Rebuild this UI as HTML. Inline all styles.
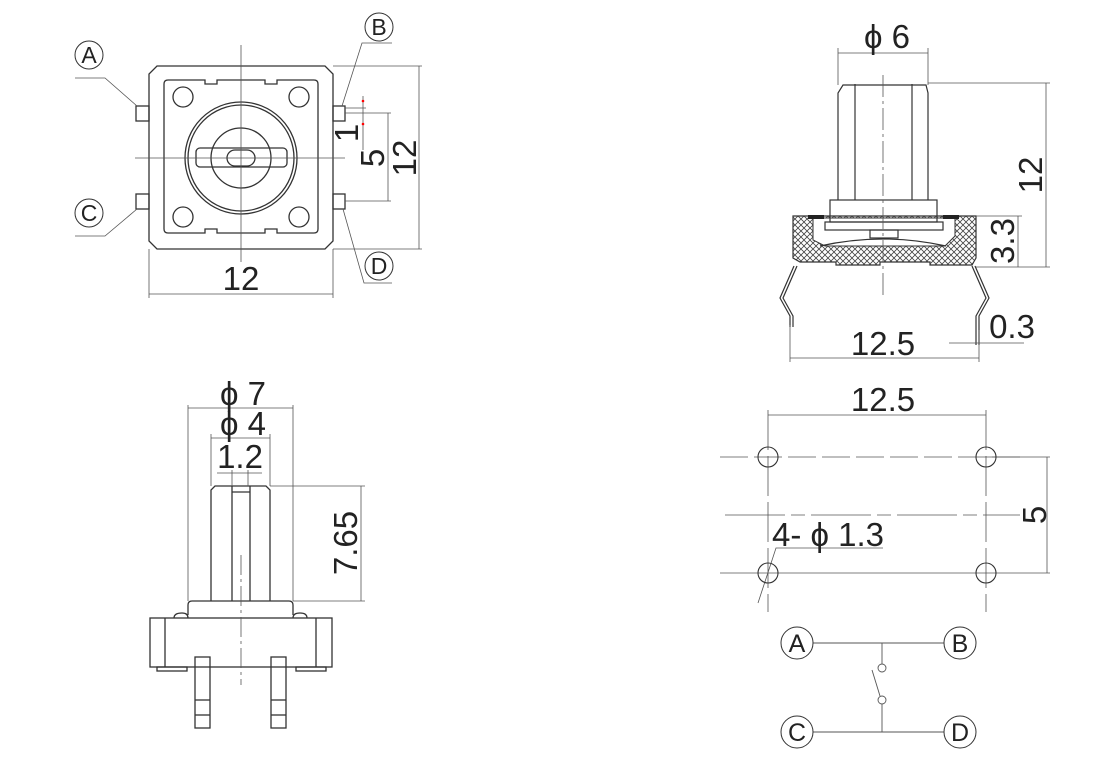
<!DOCTYPE html>
<html><head><meta charset="utf-8"><style>
html,body{margin:0;padding:0;background:#fff;}
svg{display:block;}
text{font-family:"Liberation Sans",sans-serif;fill:#222;}
</style></head><body>
<svg width="1120" height="764" viewBox="0 0 1120 764" xmlns="http://www.w3.org/2000/svg">
<defs>
<pattern id="hatch" width="6" height="6" patternUnits="userSpaceOnUse">
<rect width="6" height="6" fill="#fff"/>
<path d="M0,0L6,6M6,0L0,6" stroke="#444" stroke-width="0.8"/>
</pattern>
</defs>
<g fill="none" stroke="#333" stroke-width="1.3">
<path d="M157,66H325L333,74V241L325,249H157L149,241V74Z"/>
<path d="M168,80H205V84H217V80H265V84H277V80H314Q318,80 318,84V229Q318,233 314,233H277V229H265V233H217V229H205V233H168Q164,233 164,229V84Q164,80 168,80Z"/>
<circle cx="183" cy="97" r="10"/><circle cx="299" cy="97" r="10"/>
<circle cx="183" cy="217" r="10"/><circle cx="299" cy="217" r="10"/>
<circle cx="241" cy="158" r="56"/><circle cx="241" cy="158" r="53"/>
<circle cx="241" cy="158" r="30"/>
<rect x="196" y="148" width="91" height="19" rx="4"/>
<rect x="227" y="150" width="28" height="16" rx="8"/>
<rect x="136" y="106" width="13" height="15"/><rect x="136" y="194" width="13" height="15"/>
<rect x="333" y="106" width="12" height="15"/><rect x="333" y="194" width="12" height="15"/>
</g>
<g fill="none" stroke="#555" stroke-width="0.8">
<line x1="241" y1="45" x2="241" y2="262"/><line x1="135" y1="158" x2="345" y2="158"/>
<path d="M75,78H105L137,106"/><path d="M75,236H105L137,209"/>
<path d="M392,43H362L342,106"/><path d="M392,283H364L343,209"/>
<line x1="149" y1="249" x2="149" y2="298"/><line x1="333" y1="249" x2="333" y2="298"/>
<line x1="149" y1="294" x2="333" y2="294"/>
<line x1="333" y1="66" x2="422" y2="66"/><line x1="333" y1="249" x2="422" y2="249"/>
<line x1="419" y1="66" x2="419" y2="249"/>
<line x1="345" y1="113" x2="391" y2="113"/><line x1="345" y1="201" x2="391" y2="201"/>
<line x1="388" y1="113" x2="388" y2="201"/>
<line x1="345" y1="108" x2="366" y2="108"/>
<line x1="363" y1="96" x2="363" y2="150"/>
</g>
<circle cx="363" cy="101" r="1.3" fill="red"/><circle cx="363" cy="124" r="1.3" fill="red"/>
<g fill="#fff" stroke="#333" stroke-width="1">
<circle cx="89" cy="55" r="14"/><circle cx="379" cy="27" r="14"/>
<circle cx="89" cy="213" r="14"/><circle cx="379" cy="266" r="14"/>
</g>
<g font-size="23" text-anchor="middle">
<text x="89" y="63">A</text><text x="379" y="35">B</text>
<text x="89" y="221">C</text><text x="379" y="274">D</text>
</g>
<g font-size="33" text-anchor="middle">
<text x="241" y="290">12</text>
<text transform="translate(416,158) rotate(-90)">12</text>
<text transform="translate(384,158) rotate(-90)">5</text>
<text transform="translate(358,133) rotate(-90)">1</text>
</g>

<!-- TOP RIGHT VIEW -->
<path d="M793,216H976V258L972,265H930V262H880V265H836V262H800L793,258Z" fill="url(#hatch)" stroke="#333" stroke-width="1.2"/>
<path d="M813,218H955V236L945,246H825L813,240Z" fill="#fff" stroke="#333" stroke-width="1"/>
<g fill="none" stroke="#333" stroke-width="1.2">
<path d="M838,200V93L843,85H926L928,93V200"/>
<line x1="855" y1="84" x2="855" y2="200"/><line x1="912" y1="84" x2="912" y2="200"/>
<rect x="830" y="200" width="107" height="22"/>
<rect x="825" y="222" width="118" height="8"/>
<rect x="870" y="230" width="28" height="8"/>
<path d="M820,246Q883,232 946,246"/>
<path d="M794,266L780,298L790,316V327"/>
<path d="M797,266L783,298L793,316V327"/>
<path d="M975,266L989,298L979,316V345"/>
<path d="M972,266L986,298L976,316V345"/>
</g>
<rect x="808" y="215" width="16" height="4" fill="#222"/>
<rect x="943" y="215" width="16" height="4" fill="#222"/>
<g fill="none" stroke="#555" stroke-width="0.8">
<line x1="883" y1="75" x2="883" y2="295" stroke-dasharray="22,4,3,4"/>
<line x1="838" y1="48" x2="838" y2="85"/><line x1="928" y1="48" x2="928" y2="85"/>
<line x1="838" y1="53" x2="928" y2="53"/>
<line x1="928" y1="83" x2="1050" y2="83"/><line x1="976" y1="267" x2="1050" y2="267"/>
<line x1="1046" y1="83" x2="1046" y2="267"/>
<line x1="976" y1="216" x2="1022" y2="216"/><line x1="1018" y1="216" x2="1018" y2="267"/>
<line x1="790" y1="325" x2="790" y2="362"/><line x1="979" y1="330" x2="979" y2="362"/>
<line x1="790" y1="358" x2="979" y2="358"/>
<line x1="949" y1="343" x2="1024" y2="343"/>
</g>
<g font-size="33" text-anchor="middle">
<text x="887" y="48">ϕ 6</text>
<text transform="translate(1042,175) rotate(-90)">12</text>
<text transform="translate(1014,241) rotate(-90)">3.3</text>
<text x="883" y="355">12.5</text>
<text x="1012" y="338">0.3</text>
</g>

<!-- BOTTOM LEFT VIEW -->
<g fill="none" stroke="#333" stroke-width="1.3">
<path d="M211,601V490L215,486H266L270,490V601"/>
<line x1="232" y1="486" x2="232" y2="601"/><line x1="250" y1="486" x2="250" y2="601"/>
<line x1="232" y1="492" x2="250" y2="492"/>
<path d="M188,615V605Q188,601 192,601H289Q293,601 293,605V615"/>
<rect x="150" y="618" width="182" height="49"/>
<line x1="165" y1="618" x2="165" y2="667"/><line x1="316" y1="618" x2="316" y2="667"/>
<path d="M174,618Q174,613 182,613Q188,613 188,618"/>
<path d="M293,618Q293,613 300,613Q307,613 307,618"/>
<rect x="157" y="667" width="30" height="4"/><rect x="296" y="667" width="30" height="4"/>
<rect x="195" y="657" width="15" height="71"/><rect x="271" y="657" width="15" height="71"/>
<line x1="195" y1="700" x2="210" y2="700"/><line x1="195" y1="715" x2="210" y2="715"/>
<line x1="271" y1="700" x2="286" y2="700"/><line x1="271" y1="715" x2="286" y2="715"/>
</g>
<g fill="none" stroke="#555" stroke-width="0.8">
<line x1="241" y1="555" x2="241" y2="685" stroke-dasharray="20,4,3,4"/>
<line x1="188" y1="405" x2="188" y2="601"/><line x1="293" y1="405" x2="293" y2="601"/>
<line x1="188" y1="408" x2="293" y2="408"/>
<line x1="211" y1="434" x2="211" y2="486"/><line x1="270" y1="434" x2="270" y2="486"/>
<line x1="211" y1="438" x2="270" y2="438"/>
<line x1="232" y1="470" x2="232" y2="486"/><line x1="248" y1="470" x2="248" y2="486"/>
<line x1="217" y1="473" x2="262" y2="473"/>
<line x1="270" y1="486" x2="365" y2="486"/><line x1="293" y1="601" x2="365" y2="601"/>
<line x1="361" y1="486" x2="361" y2="601"/>
</g>
<g font-size="33" text-anchor="middle">
<text x="243" y="405">ϕ 7</text>
<text x="243" y="435">ϕ 4</text>
<text x="240" y="468">1.2</text>
<text transform="translate(357,543) rotate(-90)">7.65</text>
</g>

<!-- BOTTOM RIGHT -->
<g fill="none" stroke="#555" stroke-width="0.8">
<line x1="720" y1="457" x2="1020" y2="457" stroke-dasharray="28,6"/>
<line x1="725" y1="515" x2="1020" y2="515" stroke-dasharray="60,6,14,6"/>
<line x1="720" y1="573" x2="1050" y2="573"/>
<line x1="986" y1="457" x2="1050" y2="457"/>
<line x1="768" y1="410" x2="768" y2="612" stroke-dasharray="40,6"/>
<line x1="986" y1="410" x2="986" y2="612" stroke-dasharray="40,6"/>
<line x1="768" y1="415" x2="986" y2="415"/>
<line x1="1047" y1="457" x2="1047" y2="573"/>
<path d="M883,548H776L758,603"/>
</g>
<g fill="none" stroke="#333" stroke-width="1.1">
<circle cx="768" cy="457" r="10"/><circle cx="986" cy="457" r="10"/>
<circle cx="768" cy="573" r="10"/><circle cx="986" cy="573" r="10"/>
</g>
<g font-size="33" text-anchor="middle">
<text x="883" y="411">12.5</text>
<text transform="translate(1046,515) rotate(-90)">5</text>
<text x="828" y="546">4- ϕ 1.3</text>
</g>
<!-- schematic -->
<g fill="none" stroke="#555" stroke-width="0.9">
<line x1="813" y1="643" x2="944" y2="643"/><line x1="813" y1="732" x2="944" y2="732"/>
<line x1="882" y1="643" x2="882" y2="664"/><line x1="882" y1="704" x2="882" y2="732"/>
<circle cx="882" cy="668" r="4"/><circle cx="882" cy="700" r="4"/>
<line x1="872" y1="670" x2="880" y2="696"/>
</g>
<g fill="#fff" stroke="#333" stroke-width="1">
<circle cx="797" cy="643" r="16"/><circle cx="960" cy="643" r="16"/>
<circle cx="797" cy="732" r="16"/><circle cx="960" cy="732" r="16"/>
</g>
<g font-size="25" text-anchor="middle">
<text x="797" y="652">A</text><text x="960" y="652">B</text>
<text x="797" y="741">C</text><text x="960" y="741">D</text>
</g>
</svg>
</body></html>
